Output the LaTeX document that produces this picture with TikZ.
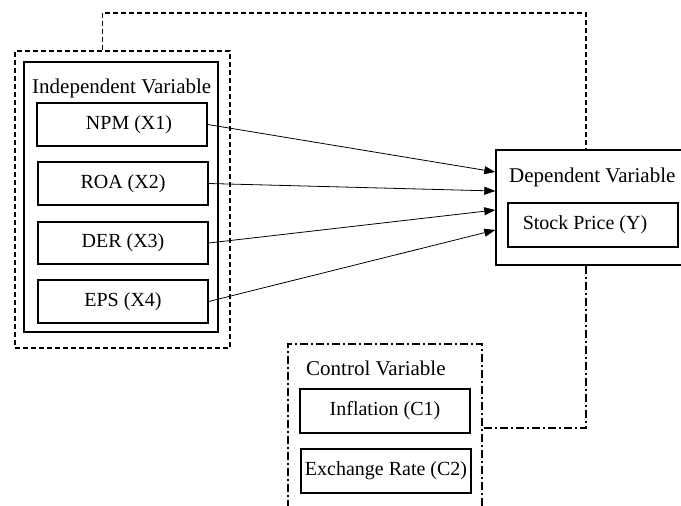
\documentclass[tikz,border=0pt]{standalone}
\usepackage{fontspec}
\setmainfont{Liberation Serif}
\usetikzlibrary{arrows.meta}
\begin{document}
\begin{tikzpicture}[x=1pt,y=-1pt,
  varbox/.style={draw,line width=1.4pt,inner sep=0pt,font=\fontsize{20}{24}\selectfont},
  groupbox/.style={draw,line width=1.4pt,inner sep=0pt},
  title/.style={inner sep=0pt,font=\fontsize{21}{25}\selectfont},
  dashedline/.style={line width=1.4pt,dash pattern=on 5pt off 3pt},
  dashdotline/.style={line width=1.4pt,dash pattern=on 8pt off 3pt on 2pt off 3pt},
  link/.style={line width=0.8pt,-{Triangle[length=11pt,width=8pt]}}]
\clip (0,0) rectangle (681,506);

% independent variables
\node[groupbox,dashedline,minimum width=215pt,minimum height=297pt] (indouter) at (122.5,199.5) {};
\node[groupbox,minimum width=194pt,minimum height=270pt] (ind) at (121,197) {};
\node[title] (indtitle) at (121.7,88) {Independent Variable};
\node[varbox,minimum width=170pt,minimum height=43pt] (npm) at (122,124.5) {\hspace*{14pt}NPM (X1)};
\node[varbox,minimum width=170pt,minimum height=43pt] (roa) at (123,183.5) {ROA (X2)};
\node[varbox,minimum width=170pt,minimum height=42pt] (der) at (123,243) {DER (X3)};
\node[varbox,minimum width=170pt,minimum height=43pt] (eps) at (123,301.5) {EPS (X4)};

% dependent variable
\node[groupbox,minimum width=214pt,minimum height=115pt] (dep) at (603,207.5) {};
\node[title,anchor=west] (deptitle) at (509,177) {Dependent Variable};
\node[varbox,minimum width=170pt,minimum height=44pt] (stock) at (593,225) {Stock Price (Y)\hspace*{16pt}};

% control variables
\node[groupbox,dashdotline,minimum width=194pt,minimum height=176pt] (ctrl) at (385,432) {};
\node[title,anchor=west] (ctrltitle) at (306,368) {Control Variable};
\node[varbox,minimum width=170pt,minimum height=44pt] (infl) at (385,411) {Inflation (C1)};
\node[varbox,minimum width=170pt,minimum height=44pt] (exch) at (386,471) {Exchange Rate (C2)};

% arrows into the dependent variable
\draw[link] (npm.east) -- ([yshift=35.5pt]dep.west);
\draw[link] (roa.east) -- ([yshift=16.5pt]dep.west);
\draw[link] (der.east) -- ([yshift=-2.5pt]dep.west);
\draw[link] (eps.east) -- ([yshift=-22.5pt]dep.west);

% dashed link over the top
\coordinate (tstart) at ([xshift=88pt]indouter.north west);
\coordinate (tcorner) at (586,13);
\draw[dashedline] (tstart) |- (tcorner) -- (tcorner |- dep.north);

% dash-dot link to the control variables
\coordinate (ccorner) at (586,428);
\draw[dashdotline] (tcorner |- dep.south) -- (ccorner) -- (ccorner -| ctrl.east);
\end{tikzpicture}
\end{document}
